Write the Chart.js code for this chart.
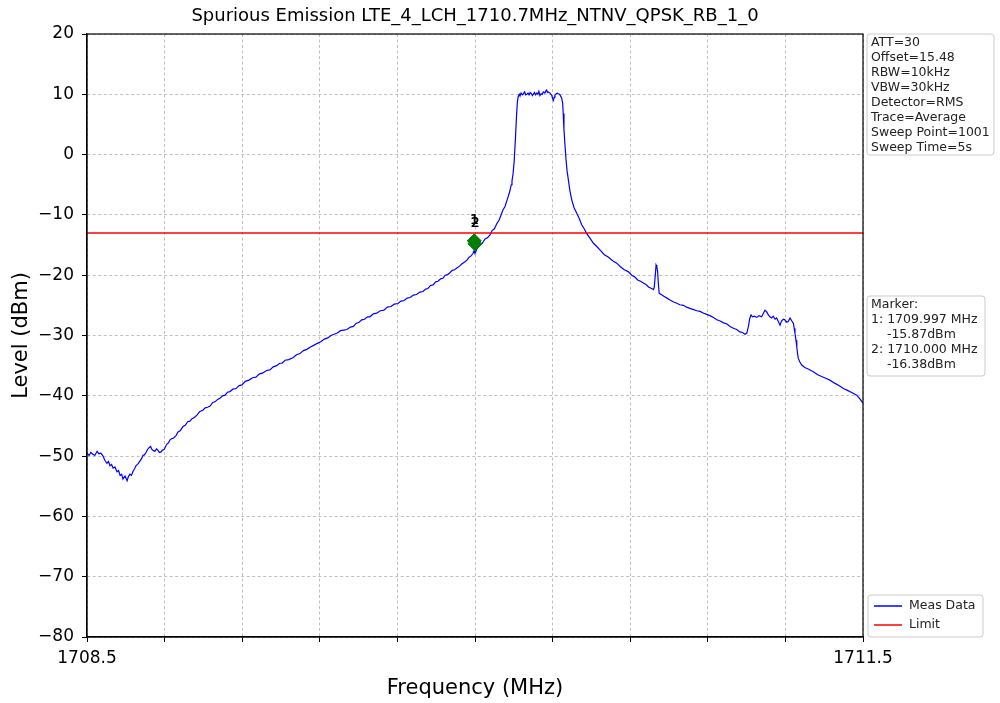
<!DOCTYPE html>
<html>
<head>
<meta charset="utf-8">
<script src="https://cdn.jsdelivr.net/npm/chart.js@4.4.1/dist/chart.umd.min.js"></script>
<style>
html,body{margin:0;padding:0;background:#fff;}
canvas{display:block;}
</style>
</head>
<body>
<canvas id="c" width="1000" height="703"></canvas>
<script>
// ---------- data ----------
const chartTitle = "Spurious Emission LTE_4_LCH_1710.7MHz_NTNV_QPSK_RB_1_0";
const xTitle = "Frequency (MHz)";
const yTitle = "Level (dBm)";

const freqMHz = [
1708.500,1708.508,1708.515,1708.523,1708.530,1708.539,1708.546,1708.554,1708.562,1708.569,
1708.577,1708.583,1708.589,1708.595,1708.601,1708.608,1708.616,1708.622,1708.628,1708.634,
1708.639,1708.647,1708.655,1708.660,1708.666,1708.672,1708.678,1708.684,1708.689,1708.697,
1708.705,1708.710,1708.716,1708.722,1708.728,1708.734,1708.740,1708.746,1708.751,1708.757,
1708.763,1708.769,1708.774,1708.780,1708.786,1708.792,1708.798,1708.803,1708.809,1708.815,
1708.821,1708.828,1708.835,1708.844,1708.852,1708.860,1708.871,1708.880,1708.889,1708.898,
1708.906,1708.915,1708.925,1708.936,1708.948,1708.957,1708.966,1708.976,1708.986,1708.995,
1709.005,1709.014,1709.024,1709.034,1709.043,1709.053,1709.064,1709.076,1709.088,1709.099,
1709.112,1709.126,1709.140,1709.153,1709.166,1709.180,1709.194,1709.207,1709.220,1709.233,
1709.245,1709.254,1709.266,1709.280,1709.296,1709.310,1709.323,1709.337,1709.350,1709.364,
1709.378,1709.391,1709.405,1709.418,1709.431,1709.443,1709.455,1709.468,1709.480,1709.493,
1709.505,1709.518,1709.530,1709.540,1709.552,1709.562,1709.573,1709.584,1709.594,1709.607,
1709.620,1709.634,1709.648,1709.661,1709.675,1709.688,1709.702,1709.714,1709.726,1709.738,
1709.749,1709.762,1709.774,1709.787,1709.799,1709.809,1709.818,1709.828,1709.838,1709.848,
1709.857,1709.867,1709.876,1709.885,1709.894,1709.903,1709.912,1709.921,1709.930,1709.940,
1709.950,1709.960,1709.969,1709.977,1709.985,1709.992,1709.997,1710.000,1710.008,1710.019,
1710.028,1710.039,1710.048,1710.058,1710.066,1710.075,1710.085,1710.093,1710.100,1710.108,
1710.116,1710.122,1710.128,1710.135,1710.140,1710.143,1710.147,1710.151,1710.156,1710.161,
1710.164,1710.167,1710.171,1710.174,1710.178,1710.183,1710.187,1710.192,1710.196,1710.200,
1710.205,1710.209,1710.213,1710.218,1710.222,1710.225,1710.230,1710.234,1710.239,1710.243,
1710.247,1710.251,1710.256,1710.260,1710.264,1710.270,1710.274,1710.277,1710.280,1710.283,
1710.290,1710.297,1710.300,1710.303,1710.306,1710.309,1710.314,1710.318,1710.322,1710.327,
1710.331,1710.335,1710.339,1710.341,1710.344,1710.348,1710.352,1710.356,1710.361,1710.367,
1710.374,1710.383,1710.393,1710.403,1710.412,1710.422,1710.432,1710.445,1710.458,1710.470,
1710.483,1710.500,1710.515,1710.532,1710.548,1710.562,1710.577,1710.592,1710.606,1710.618,
1710.629,1710.640,1710.651,1710.662,1710.672,1710.683,1710.690,1710.693,1710.697,1710.700,
1710.703,1710.706,1710.709,1710.712,1710.720,1710.730,1710.742,1710.754,1710.766,1710.778,
1710.792,1710.806,1710.818,1710.831,1710.845,1710.858,1710.870,1710.884,1710.896,1710.908,
1710.922,1710.935,1710.948,1710.961,1710.974,1710.986,1710.999,1711.012,1711.024,1711.034,
1711.044,1711.051,1711.057,1711.062,1711.067,1711.073,1711.080,1711.089,1711.098,1711.108,
1711.115,1711.121,1711.128,1711.134,1711.140,1711.147,1711.153,1711.160,1711.166,1711.173,
1711.179,1711.185,1711.192,1711.198,1711.205,1711.211,1711.218,1711.225,1711.231,1711.234,
1711.237,1711.241,1711.244,1711.247,1711.250,1711.256,1711.263,1711.275,1711.290,1711.308,
1711.325,1711.340,1711.356,1711.372,1711.390,1711.407,1711.424,1711.440,1711.458,1711.476,
1711.488,1711.500
];

const levelDbm = [
-49.5,-49.9,-49.4,-49.7,-49.9,-49.2,-49.6,-49.5,-50.0,-50.7,
-51.2,-50.9,-51.6,-51.4,-52.0,-51.8,-52.6,-52.4,-53.2,-53.0,
-53.8,-53.3,-54.1,-53.4,-53.0,-53.2,-52.5,-52.1,-51.6,-51.3,
-50.8,-50.5,-49.9,-49.8,-49.4,-48.9,-48.6,-48.4,-48.9,-49.1,
-49.2,-48.8,-49.0,-49.4,-49.3,-49.0,-48.9,-48.5,-48.0,-47.8,
-47.3,-47.1,-47.0,-46.6,-46.0,-45.8,-45.1,-44.9,-44.3,-44.2,
-43.8,-43.6,-43.2,-42.6,-42.4,-42.0,-41.9,-41.7,-41.1,-41.0,
-40.6,-40.4,-40.0,-39.9,-39.4,-39.3,-38.9,-38.8,-38.3,-38.2,
-37.6,-37.4,-37.0,-36.9,-36.4,-36.2,-35.8,-35.7,-35.2,-35.0,
-34.6,-34.6,-34.1,-34.0,-33.7,-33.2,-33.0,-32.5,-32.3,-31.9,
-31.6,-31.3,-31.0,-30.6,-30.4,-30.0,-29.8,-29.6,-29.2,-29.1,
-29.0,-28.6,-28.5,-28.0,-27.8,-27.4,-27.3,-26.9,-26.9,-26.4,
-26.3,-25.9,-25.8,-25.3,-25.2,-24.8,-24.7,-24.3,-24.2,-23.8,
-23.7,-23.3,-23.2,-22.8,-22.7,-22.3,-22.2,-21.7,-21.6,-21.1,
-21.0,-20.6,-20.5,-20.0,-19.9,-19.6,-19.2,-19.1,-18.8,-18.5,
-18.1,-17.8,-17.5,-17.0,-16.8,-16.4,-15.9,-16.4,-15.6,-15.0,
-14.7,-14.0,-13.8,-13.3,-12.6,-12.3,-11.4,-10.9,-10.1,-9.2,
-8.6,-7.8,-7.0,-6.0,-5.0,-4.4,-3.2,-1.4,2.4,6.8,
8.8,9.6,10.0,9.7,10.2,9.9,10.1,10.4,9.9,10.0,
10.2,9.9,10.3,10.1,9.8,10.0,10.3,9.9,10.2,10.0,
10.5,9.8,10.1,10.0,10.4,10.2,10.6,10.7,10.3,10.4,
10.2,9.8,9.3,9.0,9.5,9.9,10.1,10.2,10.1,10.0,
9.7,9.4,8.5,6.8,4.1,1.5,-0.9,-2.7,-4.2,-6.0,
-7.5,-8.8,-9.7,-10.6,-11.6,-12.3,-13.1,-13.9,-14.7,-15.2,
-15.8,-16.6,-17.0,-17.6,-18.0,-18.6,-19.1,-19.4,-20.0,-20.3,
-20.8,-21.0,-21.3,-21.6,-22.0,-22.2,-22.4,-22.0,-20.0,-18.3,
-18.6,-19.4,-21.5,-23.0,-23.2,-23.5,-23.8,-24.1,-24.4,-24.6,
-24.9,-25.0,-25.3,-25.5,-25.7,-25.9,-26.0,-26.3,-26.5,-26.7,
-27.0,-27.4,-27.6,-27.9,-28.1,-28.5,-28.8,-29.0,-29.4,-29.5,
-29.8,-29.6,-28.5,-27.2,-26.6,-26.9,-26.8,-27.0,-26.7,-26.9,
-26.3,-25.8,-26.1,-26.6,-26.9,-27.1,-26.8,-27.3,-27.1,-27.7,
-28.3,-27.6,-27.3,-27.4,-27.8,-27.7,-27.1,-27.6,-28.0,-28.8,
-29.6,-30.8,-31.9,-33.0,-33.8,-34.4,-34.9,-35.3,-35.6,-36.0,
-36.5,-36.8,-37.1,-37.4,-37.9,-38.3,-38.8,-39.1,-39.5,-39.9,
-40.5,-41.2
];

const limitFreq = [1708.5, 1711.5];
const limitLevel = [-13, -13];

const markerNames = ["1", "2"];
const markerFreq = [1709.997, 1710.000];
const markerLevel = [-14.3, -14.8];   // where the diamonds sit in the picture

const xMin = 1708.5, xMax = 1711.5;
const yMin = -80, yMax = 20, yStep = 10;
const xTickValues = [1708.5,1708.8,1709.1,1709.4,1709.7,1710.0,1710.3,1710.6,1710.9,1711.2,1711.5];
const xTickLabels = ["1708.5","","","","","","","","","","1711.5"];

const infoLines = ["ATT=30","Offset=15.48","RBW=10kHz","VBW=30kHz","Detector=RMS","Trace=Average","Sweep Point=1001","Sweep Time=5s"];
const markerLines = ["Marker:","1: 1709.997 MHz","    -15.87dBm","2: 1710.000 MHz","    -16.38dBm"];
const legendNames = ["Meas Data", "Limit"];
const legendColors = ["#0000ff", "#ff0000"];

// ---------- chart ----------
const FONT = "'DejaVu Sans', sans-serif";

function roundBox(ctx, x, y, w, h, r) {
  ctx.save();
  ctx.beginPath();
  ctx.moveTo(x + r, y);
  ctx.lineTo(x + w - r, y);
  ctx.arcTo(x + w, y, x + w, y + r, r);
  ctx.lineTo(x + w, y + h - r);
  ctx.arcTo(x + w, y + h, x + w - r, y + h, r);
  ctx.lineTo(x + r, y + h);
  ctx.arcTo(x, y + h, x, y + h - r, r);
  ctx.lineTo(x, y + r);
  ctx.arcTo(x, y, x + r, y, r);
  ctx.closePath();
  ctx.fillStyle = "rgba(255,255,255,0.9)";
  ctx.fill();
  ctx.strokeStyle = "#cccccc";
  ctx.lineWidth = 1;
  ctx.stroke();
  ctx.restore();
}

const decor = {
  id: "decor",
  afterDraw(chart) {
    const ctx = chart.ctx;
    const a = chart.chartArea;
    const xs = chart.scales.x, ys = chart.scales.y;
    ctx.save();
    // frame
    ctx.strokeStyle = "#000";
    ctx.lineWidth = 1.2;
    ctx.strokeRect(a.left, a.top, a.right - a.left, a.bottom - a.top);

    // title
    ctx.fillStyle = "#000";
    ctx.font = "18px " + FONT;
    ctx.textAlign = "center";
    ctx.textBaseline = "middle";
    ctx.fillText(chartTitle, (a.left + a.right) / 2, 16);

    // marker labels
    ctx.font = "14px " + FONT;
    ctx.textBaseline = "middle";
    for (let i = 0; i < markerNames.length; i++) {
      const px = xs.getPixelForValue(markerFreq[i]);
      const py = ys.getPixelForValue(markerLevel[i]);
      ctx.fillText(markerNames[i], px, py - 20);
      ctx.fillText(markerNames[i], px + 0.5, py - 20);
    }

    // info boxes
    const bx = a.right + 4;
    ctx.textAlign = "left";
    ctx.font = "12.5px " + FONT;
    roundBox(ctx, bx, a.top, 127, 121, 3);
    ctx.fillStyle = "#222";
    infoLines.forEach((t, i) => ctx.fillText(t, bx + 4, a.top + 9 + i * 15));

    roundBox(ctx, bx, 296, 118, 80, 3);
    ctx.fillStyle = "#222";
    markerLines.forEach((t, i) => ctx.fillText(t, bx + 4, 305 + i * 15));

    // legend
    roundBox(ctx, bx + 1, 595, 115, 42, 3);
    legendNames.forEach((t, i) => {
      const ly = 606 + i * 19;
      ctx.strokeStyle = legendColors[i];
      ctx.lineWidth = 1.5;
      ctx.beginPath();
      ctx.moveTo(bx + 7, ly);
      ctx.lineTo(bx + 35, ly);
      ctx.stroke();
      ctx.fillStyle = "#222";
      ctx.fillText(t, bx + 42, ly);
    });
    ctx.restore();
  }
};

const traceData = freqMHz.map((f, i) => ({ x: f, y: levelDbm[i] }));
const limitData = limitFreq.map((f, i) => ({ x: f, y: limitLevel[i] }));
const markerData = markerFreq.map((f, i) => ({ x: f, y: markerLevel[i] }));

new Chart(document.getElementById("c"), {
  type: "line",
  data: {
    datasets: [
      { label: legendNames[0], data: traceData, borderColor: "#0000ff", borderWidth: 1.2, pointRadius: 0, tension: 0, order: 3 },
      { label: legendNames[1], data: limitData, borderColor: "#ff0000", borderWidth: 1.3, pointRadius: 0, order: 2 },
      { label: "Markers", data: markerData, showLine: false, pointStyle: "rectRot", pointRadius: 7,
        backgroundColor: "#007f00", borderColor: "#007f00", borderWidth: 1, order: 1 }
    ]
  },
  options: {
    responsive: false,
    animation: false,
    devicePixelRatio: 1,
    layout: { padding: { top: 34, right: 137, left: 0, bottom: 0 } },
    plugins: { legend: { display: false }, title: { display: false }, tooltip: { enabled: false } },
    scales: {
      x: {
        type: "linear", min: xMin, max: xMax,
        afterBuildTicks: s => { s.ticks = xTickValues.map(v => ({ value: v })); },
        afterFit: s => { s.height = 66; },
        ticks: {
          autoSkip: false, maxRotation: 0, padding: 6, color: "#000",
          font: { family: FONT, size: 17 },
          callback: (v, i) => xTickLabels[i]
        },
        grid: { color: "#b0b0b0", lineWidth: 0.8, drawTicks: true, tickLength: 5, tickColor: "#000", tickWidth: 1, tickBorderDash: [] },
        border: { display: true, color: "#000", width: 1.2, dash: [3, 2.5] },
        title: { display: true, text: xTitle, color: "#000", font: { family: FONT, size: 21 }, padding: { top: 0, bottom: 2 } }
      },
      y: {
        type: "linear", min: yMin, max: yMax,
        afterFit: s => { s.width = 87; },
        ticks: {
          stepSize: yStep, padding: 8, color: "#000",
          font: { family: FONT, size: 17 },
          callback: v => String(v).replace("-", "\u2212")
        },
        grid: { color: "#b0b0b0", lineWidth: 0.8, drawTicks: true, tickLength: 5, tickColor: "#000", tickWidth: 1, tickBorderDash: [] },
        border: { display: true, color: "#000", width: 1.2, dash: [3, 2.5] },
        title: { display: true, text: yTitle, color: "#000", font: { family: FONT, size: 21 }, padding: { top: 9, bottom: 0 } }
      }
    }
  },
  plugins: [decor]
});
</script>
</body>
</html>
